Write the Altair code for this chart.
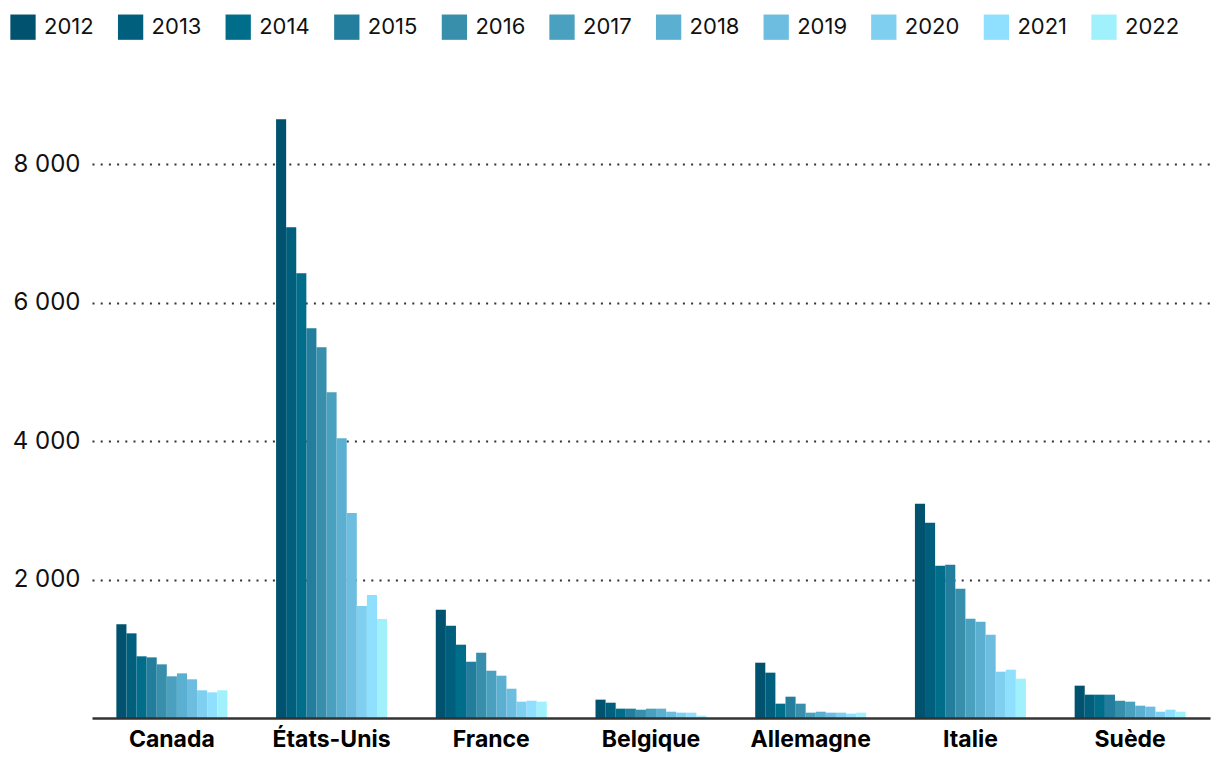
import altair as alt
import pandas as pd

countries = ["Canada", "États-Unis", "France", "Belgique", "Allemagne", "Italie", "Suède"]
years = ["2012", "2013", "2014", "2015", "2016", "2017", "2018", "2019", "2020", "2021", "2022"]

canada = [1353, 1223, 891, 876, 775, 602, 645, 559, 400, 371, 400]
etats_unis = [8650, 7090, 6426, 5632, 5357, 4707, 4043, 2960, 1617, 1776, 1430]
france = [1564, 1333, 1059, 813, 943, 683, 611, 423, 236, 250, 236]
belgique = [265, 221, 135, 135, 120, 135, 135, 91, 77, 77, 34]
allemagne = [799, 655, 207, 308, 207, 77, 91, 77, 77, 63, 77]
italie = [3095, 2821, 2200, 2214, 1868, 1434, 1391, 1203, 669, 698, 568]
suede = [467, 337, 337, 337, 250, 236, 178, 164, 91, 120, 91]

colors = ["#00526f", "#005f7d", "#006d8a", "#237e9e", "#378fac", "#4aa0bf",
          "#5bafd0", "#6cbddf", "#7ecff0", "#8fdfff", "#a1f1fd"]

y_ticks = [2000, 4000, 6000, 8000]

series = [canada, etats_unis, france, belgique, allemagne, italie, suede]
rows = []
for c, vals in zip(countries, series):
    for y, v in zip(years, vals):
        rows.append({"pays": c, "annee": y, "valeur": v})
df = pd.DataFrame(rows)

FONT = "Inter"

chart = alt.Chart(df).mark_bar().encode(
    x=alt.X("pays:N", sort=countries, title=None,
            scale=alt.Scale(paddingInner=0.305, paddingOuter=0.1525),
            axis=alt.Axis(labelAngle=0, labelFont=FONT, labelFontSize=23,
                          labelFontWeight="bold", labelColor="#000000",
                          labelPadding=10, ticks=False, domainColor="#333333",
                          domainWidth=2.5, zindex=1, grid=False)),
    xOffset=alt.XOffset("annee:N", sort=years),
    y=alt.Y("valeur:Q", title=None,
            scale=alt.Scale(domain=[0, 9000], nice=False),
            axis=alt.Axis(values=y_ticks, domain=False, ticks=False,
                          labelFont=FONT, labelFontSize=24, labelColor="#111111",
                          labelPadding=12,
                          labelExpr="replace(format(datum.value, ',.0f'), ',', ' ')",
                          grid=True, gridColor="#333333", gridWidth=2,
                          gridDash=[2, 6.2])),
    color=alt.Color("annee:N", sort=years,
                    scale=alt.Scale(domain=years, range=colors),
                    legend=alt.Legend(title=None, orient="none", direction="horizontal",
                                      legendX=-82, legendY=-81,
                                      symbolType="square", symbolSize=640,
                                      symbolStrokeWidth=0, symbolOpacity=1,
                                      labelFont=FONT, labelFontSize=22,
                                      labelColor="#111111", columnPadding=23.6,
                                      labelOffset=8)),
).properties(
    width=1118, height=623,
    autosize=alt.AutoSizeParams(type="none"),
    padding={"left": 84, "top": 87, "right": 2, "bottom": 40},
).configure_view(stroke=None)

chart.save("out.html", embed_options={"renderer": "svg", "actions": False})
